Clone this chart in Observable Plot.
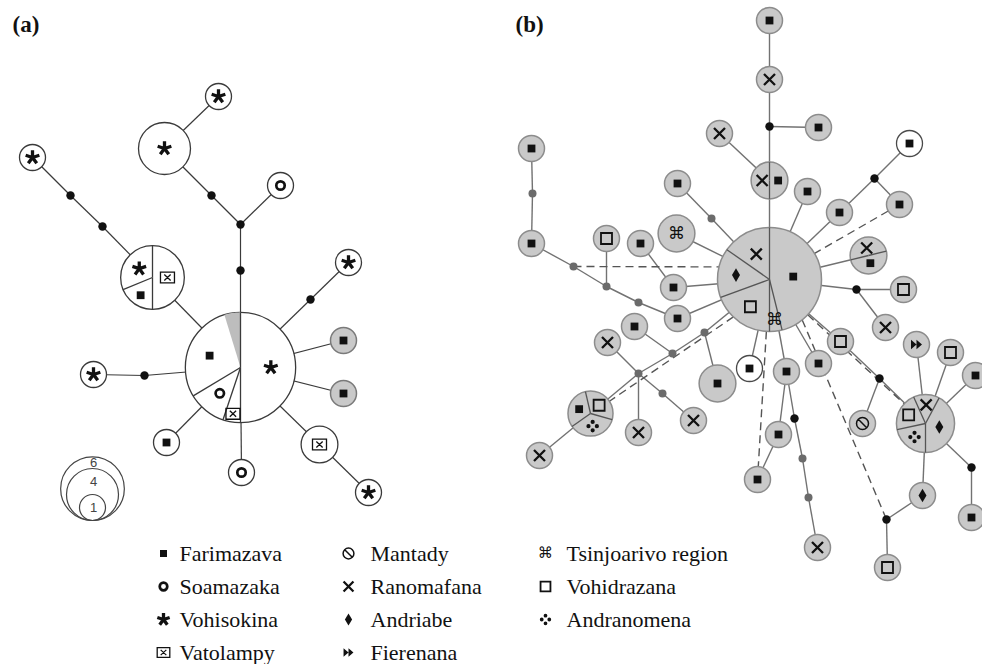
<!DOCTYPE html>
<html><head><meta charset="utf-8">
<script src="https://cdn.jsdelivr.net/npm/d3@7"></script>
<script src="https://cdn.jsdelivr.net/npm/@observablehq/plot@0.6"></script>
<style>body{margin:0;background:#fff}svg{display:block}</style>
</head><body><div id="chart"></div>
<script>
// ---------------- DATA ----------------
// Panel (a) haplotypes: layout position, haplotype count n, grey = shaded haplotype, pop = single population (null = pie)
const haplotypesA = [
  {id:"a1", x:218, y:96,  n:1,  grey:false, pop:"Vohisokina"},
  {id:"a2", x:164, y:148, n:4,  grey:false, pop:"Vohisokina"},
  {id:"a3", x:32,  y:157, n:1,  grey:false, pop:"Vohisokina"},
  {id:"a4", x:280, y:185, n:1,  grey:false, pop:"Soamazaka"},
  {id:"a5", x:152, y:277, n:6,  grey:false, pop:null},
  {id:"a6", x:348, y:262, n:1,  grey:false, pop:"Vohisokina"},
  {id:"a7", x:240, y:367, n:18, grey:false, pop:null},
  {id:"a8", x:343, y:340, n:1,  grey:true,  pop:"Farimazava"},
  {id:"a9", x:343, y:393, n:1,  grey:true,  pop:"Farimazava"},
  {id:"a10",x:319, y:444, n:2,  grey:false, pop:"Vatolampy"},
  {id:"a11",x:368, y:492, n:1,  grey:false, pop:"Vohisokina"},
  {id:"a12",x:241, y:472, n:1,  grey:false, pop:"Soamazaka"},
  {id:"a13",x:166, y:442, n:1,  grey:false, pop:"Farimazava"},
  {id:"a14",x:93,  y:374, n:1,  grey:false, pop:"Vohisokina"}
];
const mediansA = [
  {id:"m1",x:70,y:195},{id:"m2",x:102,y:226},{id:"m3",x:211,y:195},{id:"m4",x:240,y:224},
  {id:"m5",x:240,y:270},{id:"m6",x:310,y:299},{id:"m7",x:144,y:375}
];
const linksA = [
  ["a1","a2"],["a2","m3"],["m3","m4"],["m4","a4"],["m4","m5"],["m5","a7"],
  ["a3","m1"],["m1","m2"],["m2","a5"],["a5","a7"],["a7","m6"],["m6","a6"],
  ["a7","a8"],["a7","a9"],["a7","a10"],["a10","a11"],["a7","a12"],["a7","a13"],["a7","m7"],["m7","a14"]
];
// pie slices (compass degrees), d = glyph distance as fraction of radius
const slicesA = [
  {node:"a5", from:0,     to:180,   pop:"Vatolampy",  d:0.47},
  {node:"a5", from:180,   to:247.6, pop:"Farimazava", d:0.67},
  {node:"a5", from:247.6, to:360,   pop:"Vohisokina", d:0.5},
  {node:"a7", from:0,     to:180,   pop:"Vohisokina", d:0.55},
  {node:"a7", from:180,   to:198.5, pop:"Vatolampy",  d:0.85},
  {node:"a7", from:198.5, to:239,   pop:"Soamazaka",  d:0.6},
  {node:"a7", from:239,   to:343,   pop:"Farimazava", d:0.6},
  {node:"a7", from:343,   to:360,   pop:null,         d:0}
];

// Panel (b)
const haplotypesB = [
  {id:"b1", x:769,y:20, n:1,grey:true,pop:"Farimazava"},
  {id:"b2", x:769,y:79, n:1,grey:true,pop:"Ranomafana"},
  {id:"b3", x:818,y:127,n:1,grey:true,pop:"Farimazava"},
  {id:"b4", x:719,y:133,n:1,grey:true,pop:"Ranomafana"},
  {id:"b5", x:769,y:180,n:2,grey:true,pop:null},
  {id:"b6", x:677,y:183,n:1,grey:true,pop:"Farimazava"},
  {id:"b7", x:807,y:191,n:1,grey:true,pop:"Farimazava"},
  {id:"b8", x:839,y:212,n:1,grey:true,pop:"Farimazava"},
  {id:"b9", x:909,y:143,n:1,grey:false,pop:"Farimazava"},
  {id:"b10",x:899,y:204,n:1,grey:true,pop:"Farimazava"},
  {id:"b11",x:868,y:255,n:2,grey:true,pop:null},
  {id:"b12",x:903,y:289,n:1,grey:true,pop:"Vohidrazana"},
  {id:"b13",x:885,y:327,n:1,grey:true,pop:"Ranomafana"},
  {id:"b14",x:531,y:148,n:1,grey:true,pop:"Farimazava"},
  {id:"b15",x:531,y:243,n:1,grey:true,pop:"Farimazava"},
  {id:"b16",x:677,y:318,n:1,grey:true,pop:"Farimazava"},
  {id:"b17",x:606,y:238,n:1,grey:true,pop:"Vohidrazana"},
  {id:"b18",x:640,y:243,n:1,grey:true,pop:"Farimazava"},
  {id:"b19",x:673,y:287,n:1,grey:true,pop:"Farimazava"},
  {id:"b20",x:676,y:233,n:2,grey:true,pop:"Tsinjoarivo region"},
  {id:"B",  x:769,y:279,n:16,grey:true,pop:null},
  {id:"b21",x:634,y:326,n:1,grey:true,pop:"Farimazava"},
  {id:"b22",x:607,y:342,n:1,grey:true,pop:"Ranomafana"},
  {id:"b23",x:717,y:383,n:2,grey:true,pop:"Farimazava"},
  {id:"b24",x:749,y:368,n:1,grey:false,pop:"Farimazava"},
  {id:"b25",x:786,y:371,n:1,grey:true,pop:"Farimazava"},
  {id:"b26",x:693,y:420,n:1,grey:true,pop:"Ranomafana"},
  {id:"b27",x:638,y:432,n:1,grey:true,pop:"Ranomafana"},
  {id:"b28",x:590,y:413,n:3,grey:true,pop:null},
  {id:"b29",x:539,y:455,n:1,grey:true,pop:"Ranomafana"},
  {id:"b30",x:818,y:363,n:1,grey:true,pop:"Farimazava"},
  {id:"b31",x:840,y:341,n:1,grey:true,pop:"Vohidrazana"},
  {id:"b32",x:778,y:434,n:1,grey:true,pop:"Farimazava"},
  {id:"b33",x:757,y:479,n:1,grey:true,pop:"Farimazava"},
  {id:"b34",x:817,y:547,n:1,grey:true,pop:"Ranomafana"},
  {id:"b35",x:862,y:423,n:1,grey:true,pop:"Mantady"},
  {id:"b36",x:925,y:423,n:5,grey:true,pop:null},
  {id:"b37",x:916,y:344,n:1,grey:true,pop:"Fierenana"},
  {id:"b38",x:950,y:352,n:1,grey:true,pop:"Vohidrazana"},
  {id:"b39",x:975,y:375,n:1,grey:true,pop:"Farimazava"},
  {id:"b40",x:922,y:495,n:1,grey:true,pop:"Andriabe"},
  {id:"b41",x:971,y:517,n:1,grey:true,pop:"Farimazava"},
  {id:"b42",x:887,y:567,n:1,grey:true,pop:"Vohidrazana"}
];
const mediansB = [ // black median vectors
  {id:"mb1",x:769,y:126},{id:"mb2",x:874,y:178},{id:"mb3",x:856,y:289},{id:"mb4",x:794,y:418},
  {id:"mb5",x:879,y:378},{id:"mb6",x:971,y:467},{id:"mb7",x:886,y:519}
];
const missingB = [ // grey missing haplotypes
  {id:"gb1",x:711,y:218},{id:"gb2",x:532,y:193},{id:"gb3",x:573,y:266},{id:"gb4",x:606,y:286},
  {id:"gb5",x:638,y:302},{id:"gb6",x:704,y:332},{id:"gb7",x:672,y:353},{id:"gb8",x:638,y:373},
  {id:"gb9",x:662,y:393},{id:"gb10",x:802,y:458},{id:"gb11",x:808,y:497}
];
const linksB = [
  ["b1","b2"],["b2","mb1"],["mb1","b3"],["mb1","b5"],["b4","b5"],["b5","B"],["b6","gb1"],["gb1","B"],
  ["b7","B"],["b8","B"],["b8","mb2"],["mb2","b9"],["mb2","b10"],["b11","B"],["B","mb3"],["mb3","b12"],
  ["mb3","b13"],["b14","gb2"],["gb2","b15"],["b15","gb3"],["gb3","gb4"],["gb4","gb5"],["gb5","b16"],
  ["b16","B"],["b17","gb4"],["b18","b19"],["b19","B"],["b20","B"],["b21","gb7"],["b22","gb8"],
  ["B","gb6"],["gb6","gb7"],["gb7","gb8"],["gb8","b28"],["gb6","b23"],["b24","B"],["b25","B"],
  ["gb8","gb9"],["gb9","b26"],["gb8","b27"],["b28","b29"],["b30","B"],["b31","B"],["b25","b32"],
  ["b32","b33"],["b25","mb4"],["mb4","gb10"],["gb10","gb11"],["gb11","b34"],["b31","mb5"],
  ["mb5","b36"],["mb5","b35"],["b36","b37"],["b36","b38"],["b36","b39"],["b36","b40"],
  ["b36","mb6"],["mb6","b41"],["mb7","b40"],["mb7","b42"]
];
// dashed links: [from, to, rim angle at from (null = centre), rim angle at to]
const dashedB = [
  ["gb3","B",null,284],["b10","B",null,null],["B","b28",224,57],
  ["B","b33",null,null],["B","mb7",141,null],["B","b36",null,null]
];
const slicesB = [
  {node:"b5", from:0,    to:180,  pop:"Farimazava", d:0.47},
  {node:"b5", from:180,  to:360,  pop:"Ranomafana", d:0.4},
  {node:"b11",from:256.3,to:76.3, pop:"Ranomafana", d:0.42},
  {node:"b11",from:76.3, to:256.3,pop:"Farimazava", d:0.43},
  {node:"B",  from:0,    to:166,  pop:"Farimazava", d:0.46},
  {node:"B",  from:166,  to:180,  pop:"Tsinjoarivo region", d:0.77},
  {node:"B",  from:180,  to:250,  pop:"Vohidrazana", d:0.64},
  {node:"B",  from:250,  to:305,  pop:"Andriabe", d:0.65},
  {node:"B",  from:305,  to:360,  pop:"Ranomafana", d:0.55},
  {node:"b28",from:347,  to:105.5,pop:"Vohidrazana", d:0.53},
  {node:"b28",from:105.5,to:235,  pop:"Andranomena", d:0.57},
  {node:"b28",from:235,  to:347,  pop:"Farimazava", d:0.54},
  {node:"b36",from:28,   to:180,  pop:"Andriabe", d:0.49},
  {node:"b36",from:180,  to:258,  pop:"Andranomena", d:0.6},
  {node:"b36",from:258,  to:336,  pop:"Vohidrazana", d:0.65},
  {node:"b36",from:336,  to:28,   pop:"Ranomafana", d:0.64}
];

const legendCol1 = ["Farimazava","Soamazaka","Vohisokina","Vatolampy"];
const legendCol2 = ["Mantady","Ranomafana","Andriabe","Fierenana"];
const legendCol3 = ["Tsinjoarivo region","Vohidrazana","Andranomena"];
const sizeLegend = [6,4,1];
const panelLabels = ["(a)","(b)"];

// ---------------- DRAWING ----------------
const W = 982, H = 664, R1 = 13;
const rad = n => R1 * Math.sqrt(n);
const toR = a => a * Math.PI / 180;
const rim = (nd, ang, f = 1) => ({x: nd.x + f*rad(nd.n)*Math.sin(toR(ang)), y: nd.y - f*rad(nd.n)*Math.cos(toR(ang))});

const sym = f => ({draw(c, size){ f(c, Math.sqrt(size/Math.PI)); }});
const SYM = {
  "Farimazava": {r:3.9, mode:"fill", shape: sym((c,s)=>{c.rect(-s,-s,2*s,2*s);})},
  "Soamazaka":  {r:4.2, mode:"stroke", sw:2.7, shape: sym((c,s)=>{c.moveTo(s,0); c.arc(0,0,s,0,2*Math.PI);})},
  "Vohisokina": {r:7.2, mode:"stroke", sw:3.3, shape: sym((c,s)=>{for(let i=0;i<5;i++){const a=toR(i*72); c.moveTo(0,0); c.lineTo(s*Math.sin(a), -s*Math.cos(a));}})},
  "Vatolampy":  {r:7, mode:"stroke", sw:1.3, shape: sym((c,s)=>{const h=0.78*s; c.rect(-s,-h,2*s,2*h); const ix=0.45*s, iy=0.42*s; c.moveTo(-ix,-iy); c.lineTo(ix,iy); c.moveTo(ix,-iy); c.lineTo(-ix,iy);})},
  "Mantady":    {r:6, mode:"stroke", sw:1.5, shape: sym((c,s)=>{c.moveTo(s,0); c.arc(0,0,s,0,2*Math.PI); c.moveTo(-0.7*s,-0.7*s); c.lineTo(0.7*s,0.7*s);})},
  "Ranomafana": {r:5.5, mode:"stroke", sw:2.3, shape: sym((c,s)=>{c.moveTo(-s,-s); c.lineTo(s,s); c.moveTo(s,-s); c.lineTo(-s,s);})},
  "Andriabe":   {r:4, mode:"fill", shape: sym((c,s)=>{c.moveTo(0,-1.7*s); c.lineTo(s,0); c.lineTo(0,1.7*s); c.lineTo(-s,0); c.closePath();})},
  "Fierenana":  {r:5.5, mode:"fill", shape: sym((c,s)=>{c.moveTo(-s,-0.85*s); c.lineTo(0,0); c.lineTo(-s,0.85*s); c.closePath(); c.moveTo(0,-0.85*s); c.lineTo(s,0); c.lineTo(0,0.85*s); c.closePath();})},
  "Tsinjoarivo region": {text:"⌘", fs:17},
  "Vohidrazana":{r:5.5, mode:"stroke", sw:1.8, shape: sym((c,s)=>{c.rect(-s,-s,2*s,2*s);})},
  "Andranomena":{r:4.2, mode:"fill", shape: sym((c,s)=>{const q=0.5*s; for(const [dx,dy] of [[0,-1],[1,0],[0,1],[-1,0]]){c.moveTo(dx*s+q,dy*s); c.arc(dx*s,dy*s,q,0,2*Math.PI);}})}
};

function glyphMarks(data, k = 1) {
  const out = [];
  for (const [pop, s] of Object.entries(SYM)) {
    const d = data.filter(g => g.pop === pop);
    if (!d.length) continue;
    if (s.text) out.push(Plot.text(d, {x:"x", y:"y", text: () => s.text, fontSize: s.fs*k, fontFamily:"DejaVu Sans", fill:"#111", lineAnchor:"middle"}));
    else out.push(Plot.dot(d, {x:"x", y:"y", symbol: s.shape, r: s.r*k,
      fill: s.mode === "fill" ? "#111" : "none", stroke: s.mode === "stroke" ? "#111" : "none", strokeWidth: s.sw || 1}));
  }
  return out;
}

function panel(haps, meds, miss, links, dashed, slices, st) {
  const pos = new Map([...haps, ...meds, ...miss].map(d => [d.id, d]));
  const seg = links.map(([a,b]) => ({x1:pos.get(a).x, y1:pos.get(a).y, x2:pos.get(b).x, y2:pos.get(b).y}));
  const dsh = dashed.map(([a,b,fa,fb]) => {
    const A = pos.get(a), B = pos.get(b);
    const p = fa == null ? A : rim(A, fa), q = fb == null ? B : rim(B, fb);
    return {x1:p.x, y1:p.y, x2:q.x, y2:q.y};
  });
  const bounds = slices.filter(s => s.pop).map(s => { const nd = pos.get(s.node), p = rim(nd, s.from); return {x1:nd.x, y1:nd.y, x2:p.x, y2:p.y}; });
  const wedges = slices.filter(s => !s.pop).flatMap((s, i) => {
    const nd = pos.get(s.node), pts = [{k:i, x:nd.x, y:nd.y}];
    for (let a = s.from; a <= s.to + 1e-9; a += 1) pts.push({k:i, ...rim(nd, a)});
    pts.push({k:i, x:nd.x, y:nd.y});
    return pts;
  });
  const glyphs = [
    ...haps.filter(h => h.pop).map(h => ({pop:h.pop, x:h.x, y:h.y})),
    ...slices.filter(s => s.pop).map(s => {
      const nd = pos.get(s.node), to = s.to < s.from ? s.to + 360 : s.to;
      return {pop:s.pop, ...rim(nd, (s.from + to)/2, s.d)};
    })
  ];
  return [
    Plot.link(seg, {x1:"x1", y1:"y1", x2:"x2", y2:"y2", stroke:st.link, strokeWidth:st.lw}),
    Plot.link(dsh, {x1:"x1", y1:"y1", x2:"x2", y2:"y2", stroke:st.dash, strokeWidth:st.lw, strokeDasharray:"8,5"}),
    Plot.dot(haps.filter(h => !h.grey), {x:"x", y:"y", r:"n", fill:"#fff", stroke:st.whiteStroke, strokeWidth:1.3}),
    Plot.dot(haps.filter(h => h.grey), {x:"x", y:"y", r:"n", fill:"#c9c9c9", stroke:st.greyStroke, strokeWidth:1.5}),
    Plot.line(wedges, {x:"x", y:"y", z:"k", fill:"#bdbdbd", stroke:"none"}),
    Plot.link(bounds, {x1:"x1", y1:"y1", x2:"x2", y2:"y2", stroke:st.bound, strokeWidth:1.3}),
    Plot.dot(meds, {x:"x", y:"y", r:4.2, fill:"#111"}),
    Plot.dot(miss, {x:"x", y:"y", r:4, fill:"#6b6b6b"}),
    ...glyphMarks(glyphs)
  ];
}

// legend layout
const cols = [{sx:163, tx:179, names:legendCol1}, {sx:348, tx:370, names:legendCol2}, {sx:545, tx:566, names:legendCol3}];
const legendItems = cols.flatMap(c => c.names.map((name, i) => ({pop:name, x:c.sx, y:553 + i*33, tx:c.tx, ty:560 + i*33})));
const sizeBase = 520;
const sizeRows = sizeLegend.map(n => ({n, x:92, y:sizeBase - rad(n)}));
const sizeText = sizeLegend.map((n, i) => {
  const top = sizeBase - 2*rad(n);
  const last = i === sizeLegend.length - 1;
  const nextTop = last ? sizeBase : sizeBase - 2*rad(sizeLegend[i+1]);
  return {t:String(n), x:93, y: last ? sizeBase - rad(n) : (top + nextTop)/2};
});

const plot = Plot.plot({
  width: W, height: H, margin: 0,
  x: {domain:[0, W], range:[0, W], axis:null},
  y: {domain:[0, H], range:[0, H], axis:null},
  r: {type:"sqrt", domain:[0, 1], range:[0, R1]},
  style: {background:"#fff"},
  marks: [
    ...panel(haplotypesA, mediansA, [], linksA, [], slicesA, {link:"#3a3a3a", dash:"#3a3a3a", lw:1.2, whiteStroke:"#3a3a3a", greyStroke:"#7a7a7a", bound:"#3a3a3a"}),
    ...panel(haplotypesB, mediansB, missingB, linksB, dashedB, slicesB, {link:"#727272", dash:"#555", lw:1.4, whiteStroke:"#4a4a4a", greyStroke:"#8c8c8c", bound:"#555"}),
    Plot.text(panelLabels, {x:(d,i) => [12, 515][i], y:31, text:d => d, textAnchor:"start", lineAnchor:"bottom", fontFamily:"Liberation Serif", fontWeight:"bold", fontSize:23, fill:"#111"}),
    Plot.dot(sizeRows, {x:"x", y:"y", r:"n", fill:"none", stroke:"#444", strokeWidth:1.2}),
    Plot.text(sizeText, {x:"x", y:"y", text:"t", fontFamily:"Liberation Sans", fontSize:13, fill:"#444", lineAnchor:"middle"}),
    ...glyphMarks(legendItems, 0.9),
    Plot.text(legendItems, {x:"tx", y:"ty", text:"pop", textAnchor:"start", lineAnchor:"bottom", fontFamily:"Liberation Serif", fontSize:22, fill:"#111"})
  ]
});
document.getElementById("chart").appendChild(plot);
</script></body></html>
